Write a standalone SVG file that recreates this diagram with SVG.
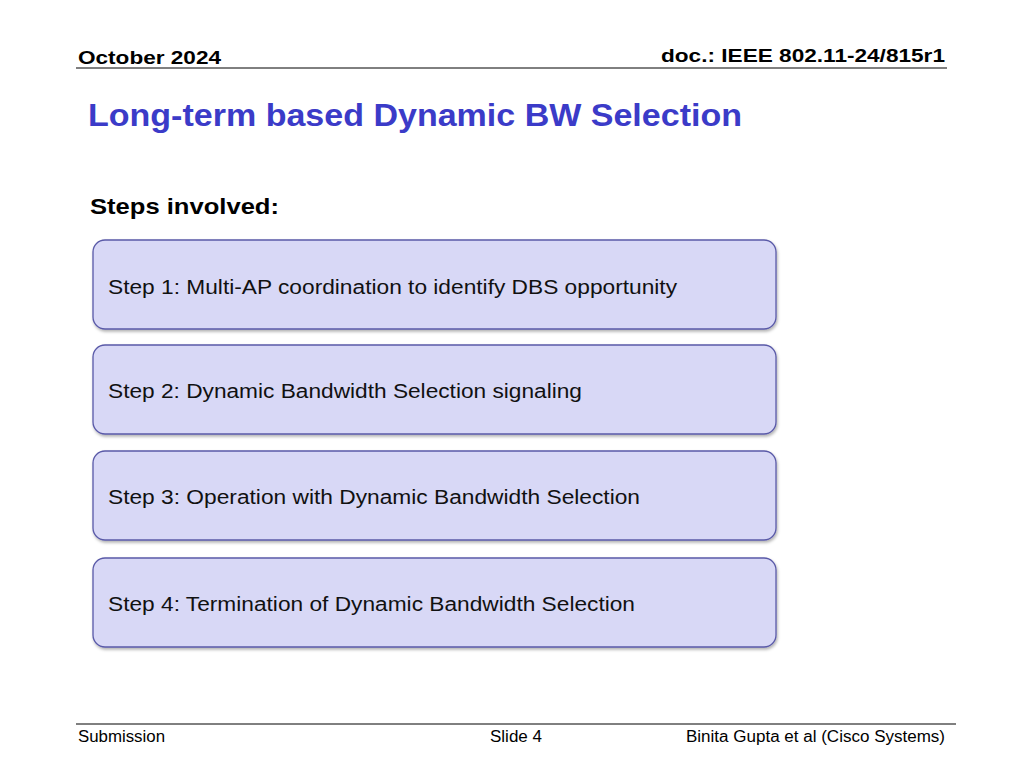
<svg xmlns="http://www.w3.org/2000/svg" width="1024" height="768" viewBox="0 0 1024 768">
<defs>
<style>
.h{font-family:"Liberation Sans",Arial,sans-serif;font-weight:bold;fill:#000}
.f{font-family:"Liberation Sans",Arial,sans-serif;font-size:16px;fill:#000}
.box{fill:#d8d8f6;stroke:#5a5aa8;stroke-width:1.3}
.t{font-family:"Liberation Sans",Arial,sans-serif;font-size:20px;fill:#111}
</style>
<filter id="sh" x="-5%" y="-10%" width="110%" height="130%"><feDropShadow dx="1" dy="2" stdDeviation="1.5" flood-color="#000" flood-opacity="0.3"/></filter>
</defs>
<rect width="1024" height="768" fill="#fff"/>
<text class="h" x="78" y="64" font-size="19" textLength="143" lengthAdjust="spacingAndGlyphs">October 2024</text>
<text class="h" x="661" y="62" font-size="19" textLength="284" lengthAdjust="spacingAndGlyphs">doc.: IEEE 802.11-24/815r1</text>
<line x1="76" y1="68" x2="947" y2="68" stroke="#000" stroke-width="1"/>
<text x="88" y="126" font-family="Liberation Sans,Arial,sans-serif" font-weight="bold" font-size="32" fill="#3b3bc8" textLength="654" lengthAdjust="spacingAndGlyphs">Long-term based Dynamic BW Selection</text>
<text class="h" x="90" y="214" font-size="22" textLength="189" lengthAdjust="spacingAndGlyphs">Steps involved:</text>
<g id="step1"><rect class="box" filter="url(#sh)" x="93" y="240" width="683" height="89" rx="12"/><text class="t" x="108" y="294" textLength="569" lengthAdjust="spacingAndGlyphs">Step 1: Multi-AP coordination to identify DBS opportunity</text></g>
<g id="step2"><rect class="box" filter="url(#sh)" x="93" y="345" width="683" height="89" rx="12"/><text class="t" x="108" y="398" textLength="474" lengthAdjust="spacingAndGlyphs">Step 2: Dynamic Bandwidth Selection signaling</text></g>
<g id="step3"><rect class="box" filter="url(#sh)" x="93" y="451" width="683" height="89" rx="12"/><text class="t" x="108" y="504" textLength="532" lengthAdjust="spacingAndGlyphs">Step 3: Operation with Dynamic Bandwidth Selection</text></g>
<g id="step4"><rect class="box" filter="url(#sh)" x="93" y="558" width="683" height="89" rx="12"/><text class="t" x="108" y="611" textLength="527" lengthAdjust="spacingAndGlyphs">Step 4: Termination of Dynamic Bandwidth Selection</text></g>
<g id="connectors"/>
<line x1="76" y1="724" x2="956" y2="724" stroke="#000" stroke-width="1"/>
<text class="f" x="78" y="742" textLength="87" lengthAdjust="spacingAndGlyphs">Submission</text>
<text class="f" x="490" y="742" textLength="52" lengthAdjust="spacingAndGlyphs">Slide 4</text>
<text class="f" x="686" y="742" textLength="259" lengthAdjust="spacingAndGlyphs">Binita Gupta et al (Cisco Systems)</text>
</svg>
